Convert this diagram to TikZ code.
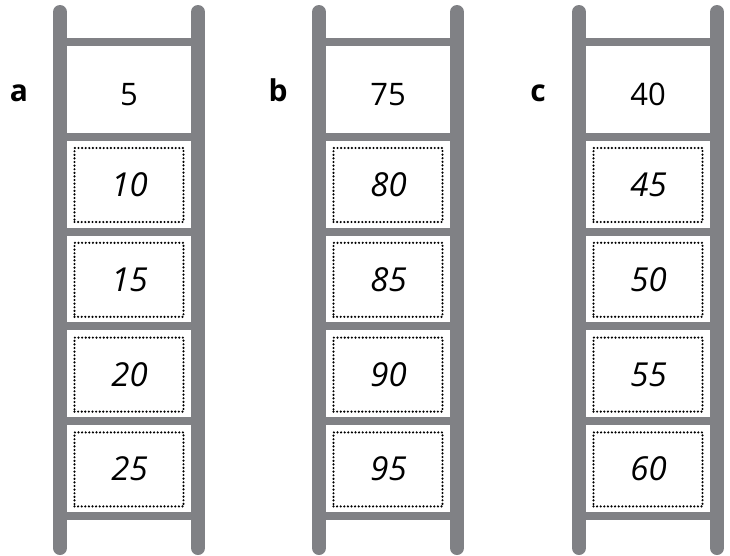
\documentclass[tikz,border=0pt]{standalone}
\usepackage{fontspec}
\setsansfont{Open Sans}
\usetikzlibrary{positioning}
\definecolor{railgray}{RGB}{128,129,133}
\tikzset{
  rail/.style={line width=14pt, railgray, line cap=round},
  rung/.style={line width=8pt, railgray},
  numbox/.style={draw, line width=2.4pt, line cap=round, dash pattern=on 0pt off 3.6pt,
    minimum width=109pt, minimum height=74pt,
    text height=23pt, text depth=0pt, font=\sffamily\itshape\fontsize{33}{33}\selectfont},
  topnum/.style={anchor=base, font=\sffamily\fontsize{31}{31}\selectfont},
  letter/.style={anchor=base, font=\sffamily\bfseries\fontsize{30}{30}\selectfont}
}
\begin{document}
\begin{tikzpicture}[x=1pt,y=-1pt]
\useasboundingbox (0,0) rectangle (730,555);
% three ladders: label, left rail, value on the top step
\foreach \lab/\xl/\first in {a/60/5,b/319/75,c/579/40} {
  \draw[rail] (\xl,12) -- (\xl,548);
  \draw[rail] (\xl+138,12) -- (\xl+138,548);
  \foreach \y in {42,137,232,326,421,516}
    \draw[rung] (\xl,\y) -- (\xl+138,\y);
  \node[letter] (lab-\lab) at (\xl-41,101) {\lab};
  \node[topnum] (top-\lab) at (\xl+69,105) {\first};
  % dotted boxes on the lower steps
  \foreach \k in {1,...,4} {
    \pgfmathtruncatemacro\val{\first+5*\k}
    \node[numbox] (box-\lab-\k) at (\xl+69,{185+94.8*(\k-1)}) {\kern1pt\val};
  }
}
\end{tikzpicture}
\end{document}
